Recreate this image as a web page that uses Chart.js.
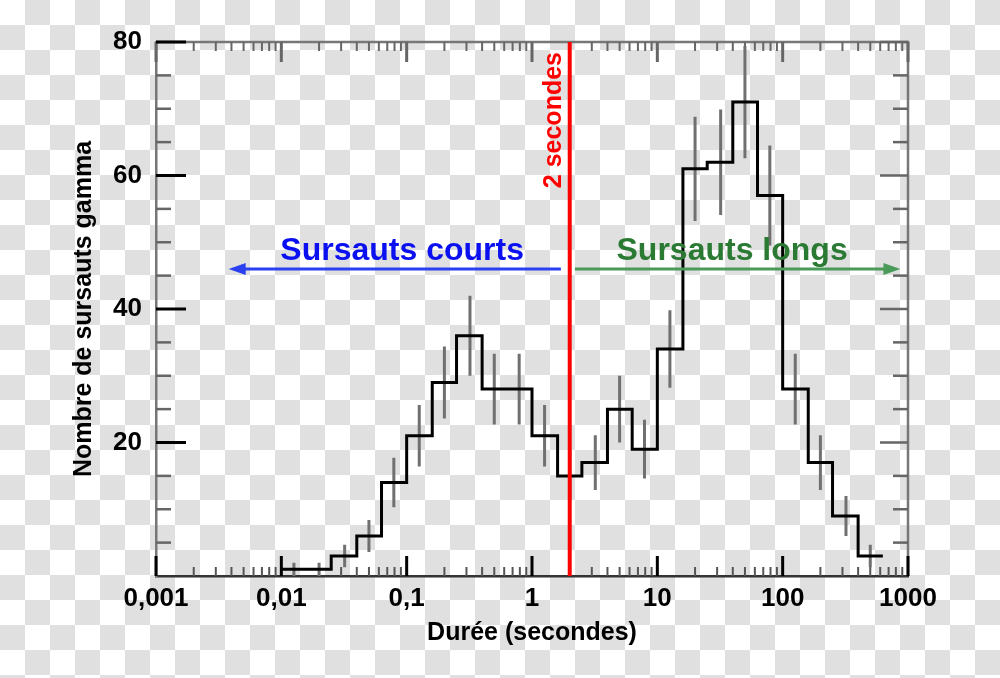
<!DOCTYPE html>
<html><head><meta charset="utf-8">
<script src="https://cdn.jsdelivr.net/npm/chart.js@4.4.1/dist/chart.umd.min.js"></script>
<style>
html,body{margin:0;padding:0;width:1000px;height:678px;overflow:hidden;
background:repeating-conic-gradient(#e0e0e0 0 25%, #ffffff 0 50%) 0 0/50px 50px;}
canvas{display:block;}
</style></head><body>
<canvas id="c" width="1000" height="678"></canvas>
<script>
// ---- data ----
const binEdges = [0.01,0.016,0.025,0.04,0.063,0.1,0.16,0.25,0.4,0.63,1,1.6,2.5,4,6.3,10,16,25,40,63,100,160,250,400,630];
const binCenters = [0.0126,0.02,0.032,0.05,0.079,0.126,0.2,0.32,0.5,0.79,1.26,2,3.2,5,7.9,12.6,20,32,50,79,126,200,320,500];
const burstCounts = [1,1,3,6,14,21,29,36,28,28,21,15,17,25,19,34,61,62,71,57,28,17,9,3];
const countErrors = [1,1,1.7,2.4,3.7,4.6,5.4,6,5.3,5.3,4.6,3.9,4.1,5,4.4,5.8,7.8,7.9,8.4,7.5,5.3,4.1,3,1.7];
const xTickValues = [0.001,0.01,0.1,1,10,100,1000];
const xTickLabels = ['0,001','0,01','0,1','1','10','100','1000'];
const yTickValues = [20,40,60,80];
const thresholdSeconds = 2;

// annotation anchors (data coordinates)
const shortArrow = {from: 1.7, to: 0.0038, y: 46};
const longArrow = {from: 2.2, to: 870, y: 46};
const shortLabel = {text: 'Sursauts courts', x: 0.092, y: 47.3};
const longLabel = {text: 'Sursauts longs', x: 39.5, y: 47.3};
const thresholdLabel = {text: '2 secondes', y: 68.3};

const FONT = "'Liberation Sans', Arial, sans-serif";

// step histogram points
const stepPoints = binEdges.slice(0, -1).map((e, i) => ({x: e, y: burstCounts[i]}));
stepPoints.push({x: binEdges[binEdges.length - 1], y: burstCounts[burstCounts.length - 1]});

// error bars as segments separated by gaps
const errorPoints = [];
binCenters.forEach((c, i) => {
  errorPoints.push({x: c, y: Math.max(0, burstCounts[i] - countErrors[i])});
  errorPoints.push({x: c, y: burstCounts[i] + countErrors[i]});
  errorPoints.push({x: c, y: null});
});

const frameTicks = {
  id: 'frameTicks',
  beforeDatasetsDraw(chart) {
    const {ctx, chartArea: a, scales: {x, y}} = chart;
    ctx.save();
    ctx.lineCap = 'butt';
    // top + right frame
    ctx.strokeStyle = '#777'; ctx.lineWidth = 2.5;
    ctx.beginPath(); ctx.moveTo(a.left, a.top); ctx.lineTo(a.right, a.top); ctx.lineTo(a.right, a.bottom); ctx.stroke();
    // log minor ticks
    for (let k = -3; k <= 2; k++) {
      for (let m = 2; m <= 9; m++) {
        const px = x.getPixelForValue(m * Math.pow(10, k));
        ctx.strokeStyle = '#555'; ctx.lineWidth = 2;
        ctx.beginPath(); ctx.moveTo(px, a.bottom); ctx.lineTo(px, a.bottom - 9); ctx.stroke();
        ctx.strokeStyle = '#666';
        ctx.beginPath(); ctx.moveTo(px, a.top); ctx.lineTo(px, a.top + 9); ctx.stroke();
      }
    }
    xTickValues.forEach(v => {
      const px = x.getPixelForValue(v);
      ctx.lineWidth = 3;
      ctx.strokeStyle = '#000';
      ctx.beginPath(); ctx.moveTo(px, a.bottom); ctx.lineTo(px, a.bottom - 20); ctx.stroke();
      ctx.strokeStyle = '#666';
      ctx.beginPath(); ctx.moveTo(px, a.top); ctx.lineTo(px, a.top + 20); ctx.stroke();
    });
    // y ticks every 5
    for (let v = 5; v <= 80; v += 5) {
      const py = y.getPixelForValue(v);
      const major = yTickValues.includes(v);
      ctx.lineWidth = major ? 3 : 2.5;
      ctx.strokeStyle = major ? '#000' : '#666';
      ctx.beginPath(); ctx.moveTo(a.left, py); ctx.lineTo(a.left + (major ? 30 : 15), py); ctx.stroke();
      ctx.strokeStyle = '#666'; ctx.lineWidth = 2.5;
      ctx.beginPath(); ctx.moveTo(a.right, py); ctx.lineTo(a.right - (major ? 28 : 15), py); ctx.stroke();
    }
    ctx.restore();
  },
  afterDraw(chart) {
    const {ctx, scales: {x, y}} = chart;
    ctx.save();
    const arrow = (spec, color) => {
      const x1 = x.getPixelForValue(spec.from), x2 = x.getPixelForValue(spec.to), py = y.getPixelForValue(spec.y);
      const dir = Math.sign(x2 - x1);
      ctx.strokeStyle = color; ctx.fillStyle = color; ctx.lineWidth = 3;
      ctx.beginPath(); ctx.moveTo(x1, py); ctx.lineTo(x2 - dir * 10, py); ctx.stroke();
      ctx.beginPath(); ctx.moveTo(x2, py); ctx.lineTo(x2 - dir * 17, py - 6); ctx.lineTo(x2 - dir * 17, py + 6); ctx.closePath(); ctx.fill();
    };
    arrow(shortArrow, '#2a3ff0');
    arrow(longArrow, '#4a9a5a');
    ctx.font = 'bold 32px ' + FONT;
    ctx.textAlign = 'center'; ctx.textBaseline = 'alphabetic';
    ctx.fillStyle = '#0a10f0';
    ctx.fillText(shortLabel.text, x.getPixelForValue(shortLabel.x), y.getPixelForValue(shortLabel.y));
    ctx.fillStyle = '#2b7a33';
    ctx.fillText(longLabel.text, x.getPixelForValue(longLabel.x), y.getPixelForValue(longLabel.y));
    // threshold label rotated
    ctx.translate(x.getPixelForValue(thresholdSeconds) - 9, y.getPixelForValue(thresholdLabel.y));
    ctx.rotate(-Math.PI / 2);
    ctx.font = 'bold 25px ' + FONT;
    ctx.fillStyle = '#ff0000';
    ctx.fillText(thresholdLabel.text, 0, 0);
    ctx.restore();
  }
};

new Chart(document.getElementById('c'), {
  type: 'line',
  data: {
    datasets: [
      {data: [{x: thresholdSeconds, y: 0}, {x: thresholdSeconds, y: 80}], borderColor: '#ff0000', borderWidth: 4,
       pointRadius: 0, order: 0, borderCapStyle: 'butt'},
      {data: stepPoints, stepped: 'before', borderColor: '#000', borderWidth: 3, pointRadius: 0, order: 1,
       borderJoinStyle: 'miter', fill: false},
      {data: errorPoints, borderColor: '#707070', borderWidth: 3, pointRadius: 0, spanGaps: false, order: 2,
       borderCapStyle: 'butt'}
    ]
  },
  options: {
    responsive: false, animation: false,
    layout: {padding: {top: 42, right: 92, bottom: 0, left: 0}},
    plugins: {legend: {display: false}, tooltip: {enabled: false}},
    scales: {
      x: {
        type: 'logarithmic', min: 0.001, max: 1000, offset: false,
        grid: {display: false, drawTicks: false},
        border: {display: true, color: '#333', width: 2.5},
        afterBuildTicks: s => { s.ticks = xTickValues.map(v => ({value: v})); },
        afterFit: s => { s.height = 102; },
        ticks: {
          autoSkip: false, maxRotation: 0, padding: 7, color: '#000',
          font: {family: FONT, size: 26, weight: 'bold'},
          callback: v => xTickLabels[xTickValues.indexOf(v)]
        },
        title: {display: true, text: 'Durée (secondes)', color: '#000',
          font: {family: FONT, size: 25, weight: 'bold'}, padding: {top: 0, bottom: 30}}
      },
      y: {
        type: 'linear', min: 0, max: 80,
        grid: {display: false, drawTicks: false},
        border: {display: true, color: '#777', width: 2.5},
        afterBuildTicks: s => { s.ticks = yTickValues.map(v => ({value: v})); },
        afterFit: s => { s.width = 156; },
        ticks: {padding: 14, color: '#000', font: {family: FONT, size: 26, weight: 'bold'}},
        title: {display: true, text: 'Nombre de sursauts gamma', color: '#000',
          font: {family: FONT, size: 25, weight: 'bold'}, padding: {top: 69, bottom: 0}}
      }
    }
  },
  plugins: [frameTicks]
});
</script>
</body></html>
